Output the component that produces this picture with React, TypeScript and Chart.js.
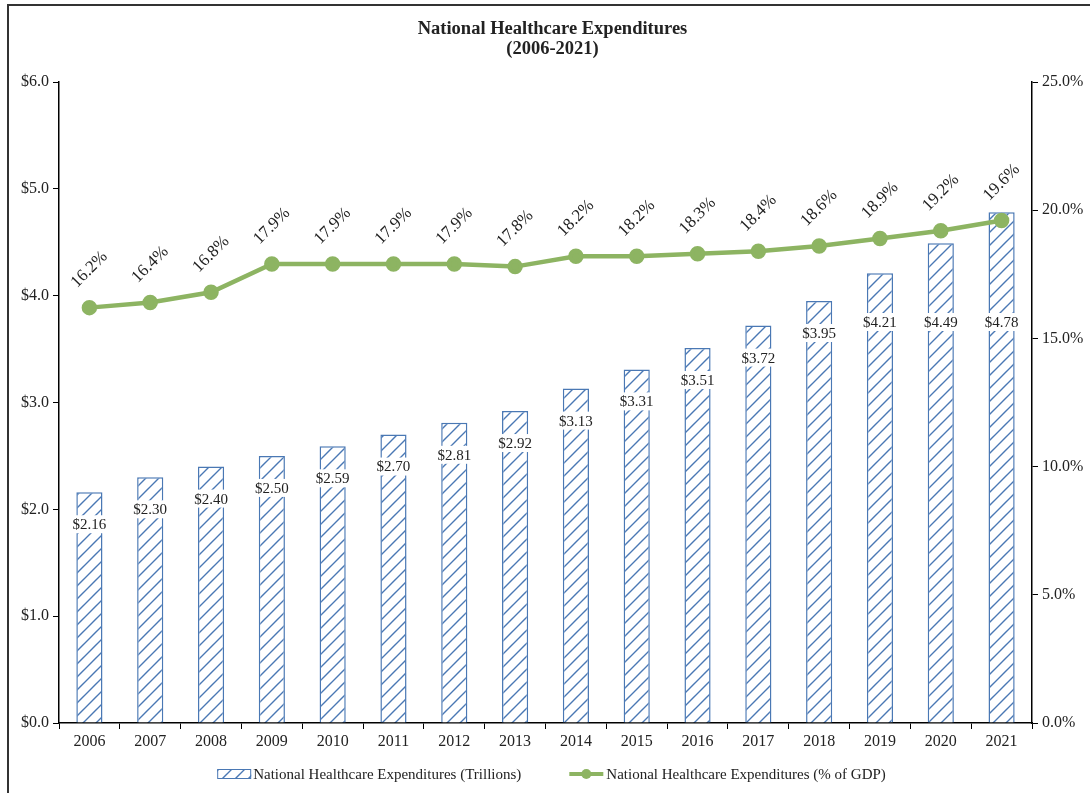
import React, { useEffect, useRef } from "react";
import { Chart, registerables } from "chart.js";

Chart.register(...registerables);

const years = ["2006", "2007", "2008", "2009", "2010", "2011", "2012", "2013", "2014", "2015", "2016", "2017", "2018", "2019", "2020", "2021"];
const spendingTrillions = [2.16, 2.30, 2.40, 2.50, 2.59, 2.70, 2.81, 2.92, 3.13, 3.31, 3.51, 3.72, 3.95, 4.21, 4.49, 4.78];
const shareOfGdp = [16.2, 16.4, 16.8, 17.9, 17.9, 17.9, 17.9, 17.8, 18.2, 18.2, 18.3, 18.4, 18.6, 18.9, 19.2, 19.6];
const titleLines = ["National Healthcare Expenditures", "(2006-2021)"];
const barLabel = "National Healthcare Expenditures (Trillions)";
const lineLabel = "National Healthcare Expenditures (% of GDP)";

const BLUE = "#4a78b4";
const GREEN = "#8db462";
const TEXT = "#222222";
const FONT = '"Liberation Serif", "DejaVu Serif", serif';

function makeHatch(): CanvasPattern | string {
  const s = 13;
  const c = document.createElement("canvas");
  c.width = s;
  c.height = s;
  const g = c.getContext("2d");
  if (!g) return "#ffffff";
  g.fillStyle = "#ffffff";
  g.fillRect(0, 0, s, s);
  g.strokeStyle = BLUE;
  g.lineWidth = 1.4;
  g.beginPath();
  g.moveTo(0, s);
  g.lineTo(s, 0);
  g.moveTo(-2, 2);
  g.lineTo(2, -2);
  g.moveTo(s - 2, s + 2);
  g.lineTo(s + 2, s - 2);
  g.stroke();
  const p = g.createPattern(c, "repeat");
  return p || "#ffffff";
}

export default function App() {
  const ref = useRef<HTMLCanvasElement | null>(null);

  useEffect(() => {
    const canvas = ref.current;
    if (!canvas) return;
    const hatch = makeHatch();

    const labelsPlugin = {
      id: "customLabels",
      afterDatasetsDraw(chart: any) {
        const ctx = chart.ctx;
        const area = chart.chartArea;
        ctx.save();
        const barMeta = chart.getDatasetMeta(0);
        ctx.font = `15px ${FONT}`;
        ctx.textAlign = "center";
        ctx.textBaseline = "middle";
        barMeta.data.forEach((el: any, i: number) => {
          const txt = "$" + spendingTrillions[i].toFixed(2);
          const y = Math.max(el.y + 32, area.top + 240);
          const w = ctx.measureText(txt).width + 4;
          ctx.fillStyle = "#ffffff";
          ctx.fillRect(el.x - w / 2, y - 9, w, 18);
          ctx.fillStyle = TEXT;
          ctx.fillText(txt, el.x, y + 1);
        });
        const lineMeta = chart.getDatasetMeta(1);
        ctx.font = `17px ${FONT}`;
        lineMeta.data.forEach((el: any, i: number) => {
          const txt = shareOfGdp[i].toFixed(1) + "%";
          ctx.save();
          ctx.translate(el.x, el.y - 38);
          ctx.rotate(-Math.PI / 4);
          ctx.fillStyle = TEXT;
          ctx.fillText(txt, 0, 0);
          ctx.restore();
        });
        ctx.restore();
      },
      afterDraw(chart: any) {
        const ctx = chart.ctx;
        const area = chart.chartArea;
        ctx.save();
        ctx.fillStyle = TEXT;
        ctx.font = `bold 18.5px ${FONT}`;
        ctx.textAlign = "center";
        ctx.textBaseline = "middle";
        const cx = (area.left + area.right) / 2 + 7;
        ctx.fillText(titleLines[0], cx, 29);
        ctx.fillText(titleLines[1], cx, 49);
        ctx.font = `15px ${FONT}`;
        ctx.textAlign = "left";
        const ly = 774;
        const sw = 34;
        const t1 = ctx.measureText(barLabel).width;
        const t2 = ctx.measureText(lineLabel).width;
        const gap = 48;
        const total = sw + 2 + t1 + gap + sw + 3 + t2;
        let x = (area.left + area.right) / 2 + 6 - total / 2;
        ctx.fillStyle = hatch as any;
        ctx.fillRect(x, ly - 5, sw, 10);
        ctx.strokeStyle = BLUE;
        ctx.lineWidth = 1;
        ctx.strokeRect(x + 0.5, ly - 4.5, sw - 1, 9);
        ctx.fillStyle = TEXT;
        ctx.fillText(barLabel, x + sw + 2, ly + 1);
        x += sw + 2 + t1 + gap;
        ctx.strokeStyle = GREEN;
        ctx.lineWidth = 4;
        ctx.beginPath();
        ctx.moveTo(x, ly);
        ctx.lineTo(x + sw, ly);
        ctx.stroke();
        ctx.fillStyle = GREEN;
        ctx.beginPath();
        ctx.arc(x + sw / 2, ly, 5, 0, Math.PI * 2);
        ctx.fill();
        ctx.fillStyle = TEXT;
        ctx.fillText(lineLabel, x + sw + 3, ly + 1);
        ctx.restore();
      },
    };

    const chart = new Chart(canvas, {
      type: "bar",
      data: {
        labels: years,
        datasets: [
          {
            type: "bar",
            label: barLabel,
            data: spendingTrillions,
            backgroundColor: hatch as any,
            borderColor: BLUE,
            borderWidth: 1.5,
            yAxisID: "y",
            categoryPercentage: 1,
            barPercentage: 0.43,
            order: 2,
          },
          {
            type: "line",
            label: lineLabel,
            data: shareOfGdp,
            borderColor: GREEN,
            backgroundColor: GREEN,
            borderWidth: 4.5,
            pointRadius: 5.5,
            pointBackgroundColor: GREEN,
            pointBorderColor: GREEN,
            yAxisID: "y1",
            tension: 0,
            order: 1,
          } as any,
        ],
      },
      options: {
        responsive: false,
        animation: false,
        devicePixelRatio: 1,
        layout: { padding: { top: 82, bottom: 40, left: 0, right: 0 } },
        plugins: {
          legend: { display: false },
          title: { display: false },
          tooltip: { enabled: false },
        },
        scales: {
          x: {
            offset: true,
            grid: { offset: true, drawOnChartArea: false, drawTicks: true, tickLength: 6, color: "#000" },
            border: { display: true, color: "#000", width: 1.5 },
            ticks: { color: TEXT, font: { family: FONT, size: 16 }, padding: 3 },
            afterFit(scale: any) {
              scale.height = 30;
            },
          },
          y: {
            position: "left",
            min: 0,
            max: 6,
            ticks: {
              stepSize: 1,
              color: TEXT,
              font: { family: FONT, size: 16 },
              padding: 4,
              callback: (v: any) => "$" + Number(v).toFixed(1),
            },
            grid: { drawOnChartArea: false, drawTicks: true, tickLength: 6, color: "#000" },
            border: { display: true, color: "#000", width: 1.5 },
            afterFit(scale: any) {
              scale.width = 59;
            },
          },
          y1: {
            position: "right",
            min: 0,
            max: 25,
            ticks: {
              stepSize: 5,
              color: TEXT,
              font: { family: FONT, size: 16 },
              padding: 4,
              callback: (v: any) => Number(v).toFixed(1) + "%",
            },
            grid: { drawOnChartArea: false, drawTicks: true, tickLength: 6, color: "#000" },
            border: { display: true, color: "#000", width: 1.5 },
            afterFit(scale: any) {
              scale.width = 58;
            },
          },
        },
      },
      plugins: [labelsPlugin],
    });

    return () => {
      chart.destroy();
    };
  }, []);

  return (
    <div style={{ position: "absolute", left: 0, top: 0, width: 1090, height: 793, overflow: "hidden", background: "#fff" }}>
      <canvas ref={ref} width={1090} height={793} style={{ position: "absolute", left: 0, top: 0, width: 1090, height: 793 }} />
      <div
        style={{
          position: "absolute",
          left: 7,
          top: 4,
          width: 1200,
          height: 900,
          borderTop: "2px solid #333",
          borderLeft: "2px solid #333",
          pointerEvents: "none",
        }}
      />
    </div>
  );
}
